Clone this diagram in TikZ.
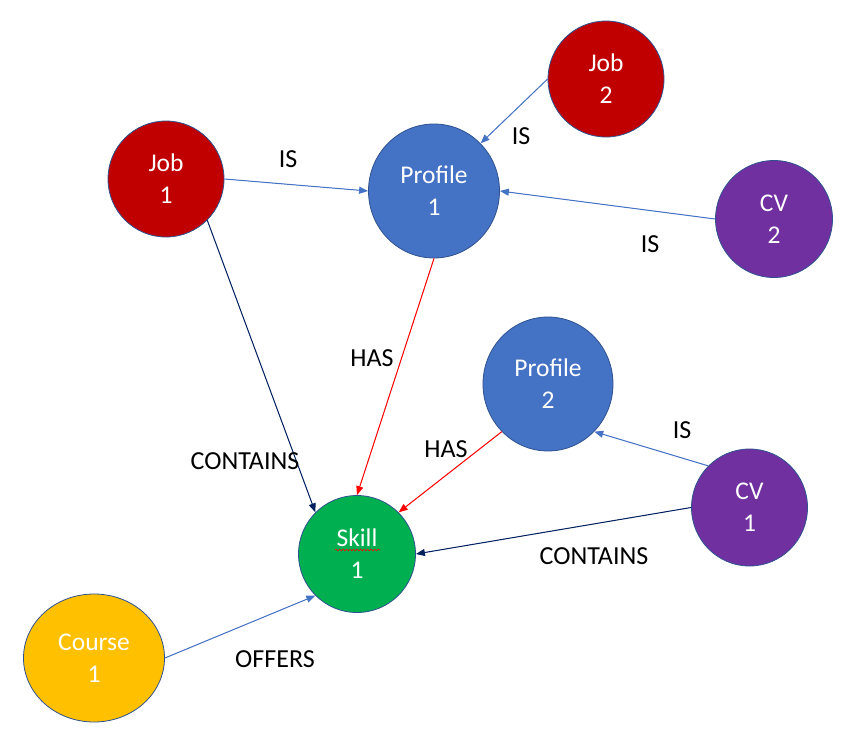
\documentclass[tikz,border=0pt]{standalone}
\usepackage{fontspec}
\setmainfont{Carlito}
\usetikzlibrary{shapes.geometric,arrows.meta,decorations.pathmorphing,calc}
\definecolor{jobred}{HTML}{C00000}
\definecolor{profblue}{HTML}{4472C4}
\definecolor{cvpurple}{HTML}{7030A0}
\definecolor{skillgreen}{HTML}{00B050}
\definecolor{courseyellow}{HTML}{FFC000}
\definecolor{olc}{HTML}{2F528F}
\definecolor{isblue}{HTML}{4472C4}
\definecolor{navy}{HTML}{002060}
\definecolor{hasred}{HTML}{FF0000}
\begin{document}
\begin{tikzpicture}[x=1pt,y=-1pt,
  ent/.style={ellipse, draw=olc, line width=0.8pt, text=white, align=center,
    inner sep=0pt, font=\fontsize{25.5}{32}\selectfont},
  lbl/.style={text=black, inner sep=0pt, font=\fontsize{26}{30}\selectfont},
  conn/.style={line width=1pt, -{Triangle[length=9pt,width=7pt]}},
  isarrow/.style={conn, draw=isblue, fill=isblue},
  hasarrow/.style={conn, draw=hasred, fill=hasred},
  conarrow/.style={conn, draw=navy, fill=navy}]
\useasboundingbox (0,0) rectangle (852,742);
\fill[white] (0,0) rectangle (852,742);

\node[ent, fill=jobred, minimum width=116pt, minimum height=116pt] (job1) at (166,179) {Job\\1};
\node[ent, fill=profblue, minimum width=131pt, minimum height=134pt] (prof1) at (434,191) {Profile\\1};
\node[ent, fill=jobred, minimum width=116pt, minimum height=116pt] (job2) at (606,79) {Job\\2};
\node[ent, fill=cvpurple, minimum width=117pt, minimum height=117pt] (cv2) at (774,219) {CV\\2};
\node[ent, fill=profblue, minimum width=130pt, minimum height=134pt] (prof2) at (548,384) {Profile\\2};
\node[ent, fill=cvpurple, minimum width=116pt, minimum height=117pt] (cv1) at (749.5,507.5) {CV\\1};
\node[ent, fill=skillgreen, minimum width=117pt, minimum height=117pt] (skill) at (357,554) {Skill\\1};
\node[ent, fill=courseyellow, minimum width=141pt, minimum height=128pt] (course) at (94,658) {Course\\1};

% spell-check squiggle under "Skill"
\draw[hasred, line width=0.6pt, decorate, decoration={snake, amplitude=0.9pt, segment length=3.5pt}]
  ($(skill.center)+(-22,-4)$) -- ($(skill.center)+(23,-4)$);

\draw[isarrow] (job1.east) -- (prof1.west);
\draw[isarrow] (job2.west) -- (prof1.north east);
\draw[isarrow] (cv2.west) -- (prof1.east);
\draw[isarrow] (cv1.north west) -- (prof2.south east);
\draw[hasarrow] (prof1.south) -- (skill.north);
\draw[hasarrow] (prof2.south west) -- (skill.north east);
\draw[conarrow] (job1.south east) -- (skill.north west);
\draw[conarrow] (cv1.west) -- (skill.east);
\draw[isarrow] (course.east) -- (skill.south west);

\node[lbl] (l1) at (288,159) {IS};
\node[lbl] (l2) at (521,136) {IS};
\node[lbl] (l3) at (650,244) {IS};
\node[lbl] (l4) at (682,430) {IS};
\node[lbl] (l5) at (372,358) {HAS};
\node[lbl] (l6) at (446,449) {HAS};
\node[lbl] (l7) at (245,461) {CONTAINS};
\node[lbl] (l8) at (594,556) {CONTAINS};
\node[lbl] (l9) at (275,659) {OFFERS};
\end{tikzpicture}
\end{document}
